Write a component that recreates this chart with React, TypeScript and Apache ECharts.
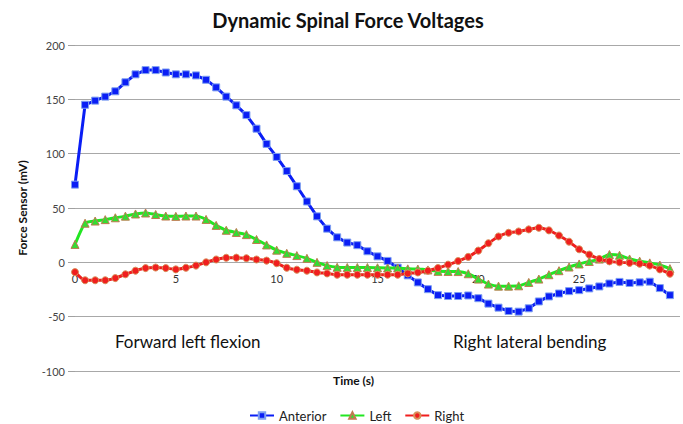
import React, { useEffect, useRef } from "react";
import * as echarts from "echarts";

const titleText = "Dynamic Spinal Force Voltages";
const yAxisTitle = "Force Sensor (mV)";
const xAxisTitle = "Time (s)";
const annotations = ["Forward left flexion", "Right lateral bending"];
const seriesNames = ["Anterior", "Left", "Right"];

const times = [
  0, 0.5, 1, 1.5, 2, 2.5, 3, 3.5, 4, 4.5, 5, 5.5, 6, 6.5, 7, 7.5, 8, 8.5, 9, 9.5,
  10, 10.5, 11, 11.5, 12, 12.5, 13, 13.5, 14, 14.5, 15, 15.5, 16, 16.5, 17, 17.5, 18, 18.5, 19, 19.5,
  20, 20.5, 21, 21.5, 22, 22.5, 23, 23.5, 24, 24.5, 25, 25.5, 26, 26.5, 27, 27.5, 28, 28.5, 29, 29.5,
];

const anterior = [
  71.5, 145, 148.8, 152.5, 157.4, 165.7, 173, 176.9, 176.9, 174.7,
  173, 173, 172, 168, 161, 152.5, 144.5, 135.5, 123, 109,
  97, 84, 70, 56, 42.3, 31, 23, 18.2, 15.8, 10.2,
  5.5, 1.3, -4.9, -12, -18.5, -24.7, -30.2, -31, -31, -30.5,
  -33, -38, -41.7, -44.8, -45.4, -42.3, -36, -31.4, -28.7, -26.5,
  -25.6, -24, -22.2, -19.5, -18, -19, -18.4, -17.8, -23.7, -30.2,
];

const left = [
  16.5, 36, 38, 39.3, 41, 42.5, 44.5, 45.4, 44, 42.6,
  42.3, 42.6, 42.6, 39.5, 34, 29.5, 27.5, 25.5, 21, 16,
  11.2, 8.3, 6.2, 3.7, 0, -3, -4.6, -4.8, -4.8, -4.8,
  -5, -5.2, -5.2, -6, -6.2, -7, -8.3, -8.4, -8.5, -10.5,
  -15.4, -20, -21.9, -21.9, -21.6, -18.5, -15.4, -11.4, -7.7, -4.3,
  -1.5, 0.8, 3, 7.2, 6.5, 3.1, 1.1, -0.5, -2.5, -5.8,
];

const right = [
  -9, -16.5, -16.5, -16.5, -14.5, -11, -7.7, -5.3, -4.8, -5.3,
  -6.5, -5, -3, 0, 2.6, 4.2, 4.3, 3.8, 2.6, 1.6,
  -0.8, -5, -6.8, -7.7, -9.3, -10.2, -11.4, -11.4, -11.4, -11.4,
  -11.4, -11.4, -11.4, -10.2, -9.3, -7.7, -5.2, -2.1, 1.2, 5,
  10.8, 17.6, 23.8, 27.2, 28.4, 30.3, 31.8, 29.4, 24.7, 19,
  12, 7.1, 3.1, 0.9, 0, -0.5, -1.3, -3, -6.5, -10.5,
];

const pairs = (ys: number[]) => times.map((t, i) => [t, ys[i]]);

const GRID_TOP = 45;
const GRID_BOTTOM = 53;
const CHART_H = 424;
const Y_MIN = -100;
const Y_MAX = 200;

export default function App() {
  const ref = useRef<HTMLDivElement>(null);
  useEffect(() => {
    if (!ref.current) return;
    const chart = echarts.init(ref.current, null, { renderer: "svg" });
    const font = "Lato, 'Liberation Sans', sans-serif";
    const plotH = CHART_H - GRID_TOP - GRID_BOTTOM;
    const zeroOffset = -(plotH * (0 - Y_MIN)) / (Y_MAX - Y_MIN);
    chart.setOption({
      animation: false,
      backgroundColor: "#ffffff",
      textStyle: { fontFamily: font },
      title: {
        text: titleText,
        left: 343,
        textAlign: "center",
        top: 5,
        textStyle: { fontFamily: font, fontSize: 20, fontWeight: "bold", color: "#111" },
      },
      grid: { left: 75, right: 2, top: GRID_TOP, bottom: GRID_BOTTOM },
      legend: {
        bottom: -3,
        left: 244,
        itemWidth: 24,
        itemHeight: 8,
        itemGap: 13,
        textStyle: { fontFamily: font, fontSize: 13, color: "#222" },
        data: seriesNames,
      },
      xAxis: {
        type: "value",
        min: 0,
        max: 30,
        interval: 5,
        offset: zeroOffset,
        axisLine: { show: false, onZero: false },
        axisTick: { show: false },
        splitLine: { show: false },
        axisLabel: {
          fontFamily: font,
          fontSize: 11,
          color: "#333",
          margin: 11,
          formatter: (v: number) => (v >= 30 ? "" : String(v)),
        },
      },
      yAxis: {
        type: "value",
        min: Y_MIN,
        max: Y_MAX,
        interval: 50,
        name: yAxisTitle,
        nameLocation: "middle",
        nameGap: 47,
        nameRotate: 90,
        nameTextStyle: { fontFamily: font, fontSize: 12, fontWeight: "bold", color: "#111" },
        axisLine: { show: false },
        axisTick: { show: true, inside: false, length: 7, lineStyle: { color: "#a0a0a0" } },
        splitLine: { show: true, lineStyle: { color: "#a8a8a8", width: 1 } },
        axisLabel: { fontFamily: font, fontSize: 11, color: "#444", margin: 10 },
      },
      graphic: [
        {
          type: "text",
          left: 333,
          top: 374,
          style: { text: xAxisTitle, fontFamily: font, fontSize: 12, fontWeight: "bold", fill: "#111" },
        },
        {
          type: "text",
          left: 115,
          top: 333,
          style: { text: annotations[0], fontFamily: font, fontSize: 17, fill: "#111" },
        },
        {
          type: "text",
          left: 453,
          top: 333,
          style: { text: annotations[1], fontFamily: font, fontSize: 17, fill: "#111" },
        },
      ],
      series: [
        {
          name: seriesNames[0],
          type: "line",
          data: pairs(anterior),
          smooth: false,
          symbol: "rect",
          symbolSize: 7,
          lineStyle: { color: "#0a1ef5", width: 3 },
          itemStyle: { color: "#0a1ef5", borderColor: "#7fa0f0", borderWidth: 1 },
          z: 2,
        },
        {
          name: seriesNames[1],
          type: "line",
          data: pairs(left),
          smooth: 0.2,
          symbol: "triangle",
          symbolSize: 8,
          lineStyle: { color: "#22e622", width: 3 },
          itemStyle: { color: "#33dd33", borderColor: "#c07a50", borderWidth: 1 },
          z: 3,
        },
        {
          name: seriesNames[2],
          type: "line",
          data: pairs(right),
          smooth: 0.2,
          symbol: "circle",
          symbolSize: 7,
          lineStyle: { color: "#f01e1e", width: 3 },
          itemStyle: { color: "#f01e1e", borderColor: "#d8905a", borderWidth: 1 },
          z: 4,
        },
      ],
    });
    return () => chart.dispose();
  }, []);
  return (
    <div
      ref={ref}
      style={{ position: "fixed", left: 0, top: 0, width: 683, height: 424, background: "#fff" }}
    />
  );
}
